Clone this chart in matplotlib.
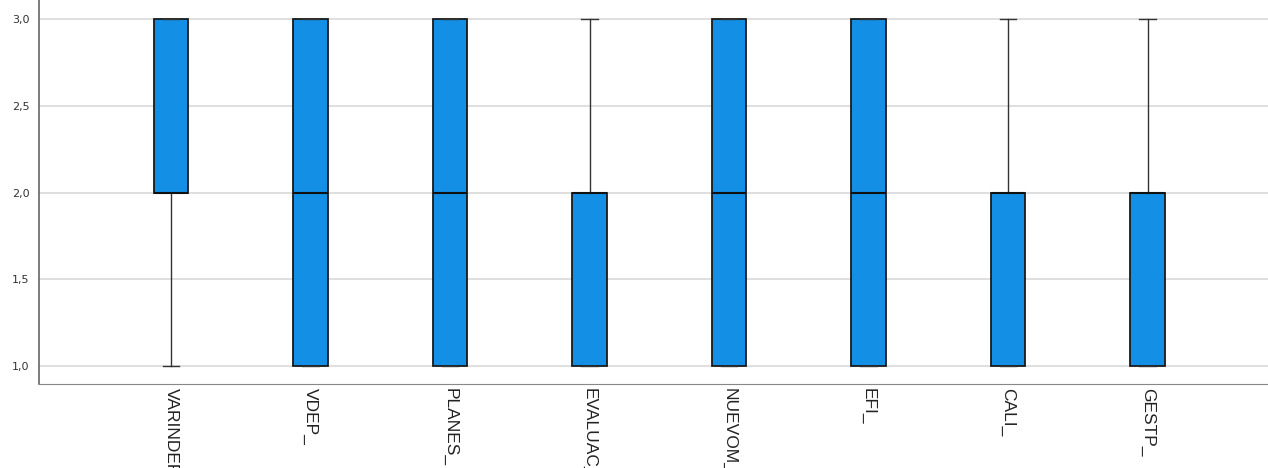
import matplotlib.pyplot as plt

labels = ['VARINDEP', 'VDEP_', 'PLANES_', 'EVALUAC_', 'NUEVOM_', 'EFI_', 'CALI_', 'GESTP_']
whislo = [1, 1, 1, 1, 1, 1, 1, 1]
q1 = [2, 1, 1, 1, 1, 1, 1, 1]
med = [2, 2, 2, 2, 2, 2, 2, 2]
q3 = [3, 3, 3, 2, 3, 3, 2, 2]
whishi = [3, 3, 3, 3, 3, 3, 3, 3]
yticks = [1.0, 1.5, 2.0, 2.5, 3.0]

stats = []
for i in range(len(labels)):
    stats.append({'label': labels[i], 'whislo': whislo[i], 'q1': q1[i],
                  'med': med[i], 'q3': q3[i], 'whishi': whishi[i]})

fig = plt.figure(figsize=(12.68, 4.68), dpi=100)
ax = fig.add_axes([39/1268, 84/468, 1 - 39/1268, 384/468])

ax.bxp(stats, positions=range(1, len(labels) + 1), widths=0.25, capwidths=0.12,
       showfliers=False, patch_artist=True,
       boxprops=dict(facecolor='#1390e6', edgecolor='#1a1a1a', linewidth=1.3),
       medianprops=dict(color='#111111', linewidth=1.5),
       whiskerprops=dict(color='#333333', linewidth=1.0),
       capprops=dict(color='#333333', linewidth=1.0), zorder=3)

ax.set_xlim(1 - 132/139.5, 1 + (1268 - 171)/139.5)
ax.set_ylim(1 - 18/173.5, 3 + 19/173.5)
ax.set_yticks(yticks)
ax.set_yticklabels([f'{v:.1f}'.replace('.', ',') for v in yticks],
                   fontsize=8, color='#333333', family='DejaVu Sans')
ax.set_xticks(range(1, len(labels) + 1))
ax.set_xticklabels(labels, rotation=-90, fontsize=12.5, color='#222222',
                   family='Liberation Sans', va='top', ha='center')
ax.tick_params(axis='x', length=0, pad=3)
ax.tick_params(axis='y', length=0, pad=7)
ax.yaxis.grid(True, color='#d9d9d9', linewidth=1.2, zorder=0)
ax.set_axisbelow(True)
ax.spines['top'].set_visible(False)
ax.spines['right'].set_visible(False)
ax.spines['left'].set_color('#666666')
ax.spines['bottom'].set_color('#888888')
ax.spines['left'].set_linewidth(1.2)

plt.savefig('out.png', dpi=100)
